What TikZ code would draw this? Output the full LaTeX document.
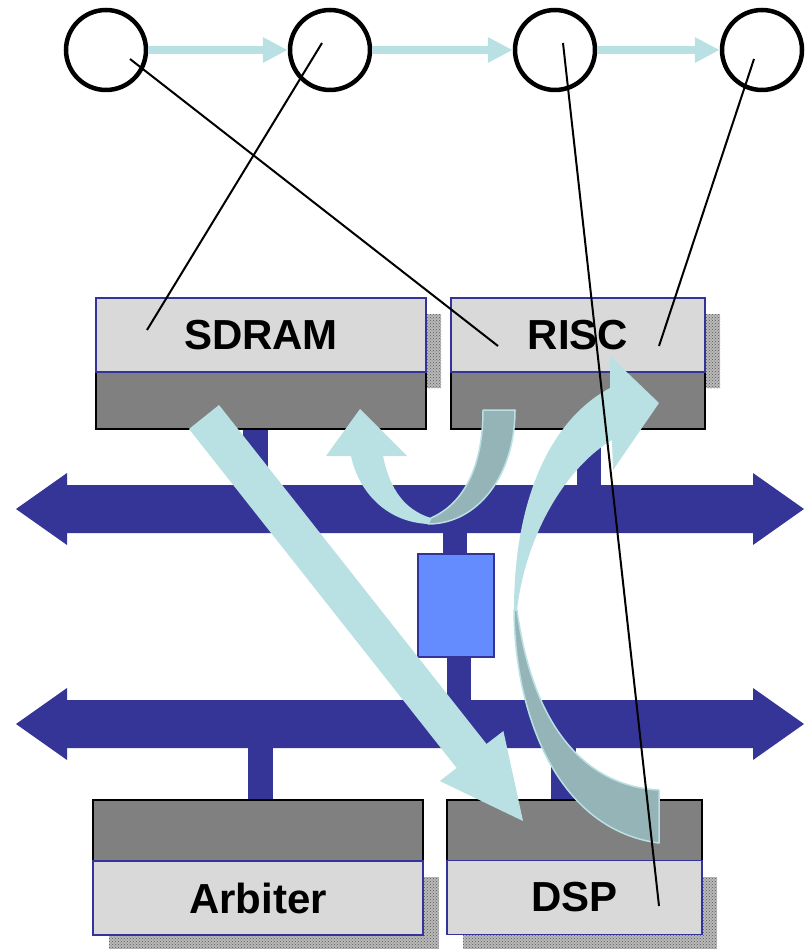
\documentclass[tikz,border=0pt]{standalone}
\usepackage{fontspec}
\setmainfont{Liberation Sans}
\usetikzlibrary{arrows.meta,patterns}

\definecolor{busblue}{RGB}{53,53,152}
\definecolor{edgeblue}{RGB}{51,51,153}
\definecolor{bridgeblue}{RGB}{100,140,255}
\definecolor{labelgray}{RGB}{217,217,217}
\definecolor{basegray}{RGB}{128,128,128}
\definecolor{shadowgray}{RGB}{185,185,185}
\definecolor{flowcyan}{RGB}{185,224,227}
\definecolor{flowteal}{RGB}{149,180,184}

\tikzset{
  state/.style={circle, draw=black, line width=4.5pt, minimum size=80pt, inner sep=0pt},
  hop/.style={draw=flowcyan, line width=8pt, -{Triangle[width=24pt,length=25pt]}},
  link/.style={draw=black, line width=2pt},
  basebox/.style={rectangle, draw=black, line width=1.5pt, fill=basegray, inner sep=0pt},
  labelbox/.style={rectangle, draw=edgeblue, line width=1.5pt, fill=labelgray, inner sep=0pt,
                   minimum height=74pt, font=\fontsize{42}{50}\selectfont\bfseries},
  shadowfill/.style={fill=shadowgray},
  shadowdots/.style={pattern=crosshatch dots, pattern color=black!65},
  bus/.style={fill=busblue},
  bridge/.style={rectangle, draw=edgeblue, line width=2pt, fill=bridgeblue, inner sep=0pt,
                 minimum width=76pt, minimum height=103pt},
  flowfront/.style={fill=flowcyan},
  flowback/.style={fill=flowteal, draw=flowcyan, line width=1.5pt, line join=round},
}

% double-headed bus bar centred on the given y
\newcommand\busbar[1]{%
  \fill[bus] (16,#1) -- (67,#1-36) -- (67,#1-24) -- (753,#1-24) -- (753,#1-36)
    -- (804,#1) -- (753,#1+36) -- (753,#1+24) -- (67,#1+24) -- (67,#1+36) -- cycle;}

% drop shadow of a label box
\newcommand\dropshadow[4]{%
  \fill[shadowfill] (#1,#2) rectangle (#3,#4);
  \fill[shadowdots] (#1,#2) rectangle (#3,#4);}

\begin{document}
\begin{tikzpicture}[x=1pt,y=-1pt]
\useasboundingbox (0,0) rectangle (807,949);

% ---- shadows ----
\dropshadow{111}{314}{441}{388}
\dropshadow{466}{314}{720}{388}
\dropshadow{109}{877}{439}{951}
\dropshadow{463}{877}{717}{951}

% ---- bus stubs ----
\fill[bus] (243,429) rectangle (268,486);
\fill[bus] (577,429) rectangle (601,486);
\fill[bus] (443,532) rectangle (467,555);
\fill[bus] (447,656) rectangle (471,701);
\fill[bus] (248,747) rectangle (273,800);
\fill[bus] (551,747) rectangle (576,800);

% ---- buses ----
\busbar{509}
\busbar{724}

% ---- bus bridge ----
\node[bridge] (bridge) at (456,605.5) {};

% ---- components ----
\node[basebox, minimum width=330pt, minimum height=57pt] (sdramBase) at (261,400.5) {};
\node[labelbox, minimum width=330pt] (sdram) at (261,335) {SDRAM};
\node[basebox, minimum width=254pt, minimum height=57pt] (riscBase) at (578,400.5) {};
\node[labelbox, minimum width=254pt] (risc) at (578,335) {RISC};
\node[basebox, minimum width=330pt, minimum height=61pt] (arbiterBase) at (258,830.5) {};
\node[labelbox, minimum width=330pt] (arbiter) at (258,898) {Arbiter};
\node[basebox, minimum width=255pt, minimum height=61pt] (dspBase) at (574.5,830.5) {};
\node[labelbox, minimum width=255pt] (dsp) at (574.5,897.5) {DSP};

% ---- data flows ----
% SDRAM -> DSP
\fill[flowfront] (219,405) -- (486.5,744) -- (503.4,731) -- (523,821) -- (439.8,781)
  -- (456.7,768) -- (189,429) -- cycle;
% RISC -> SDRAM (U turn)
\fill[flowfront] (360,409) -- (407,456) -- (383,456) .. controls (390,490) and (405,510) .. (431,518)
  -- (428,524) .. controls (385,522) and (358,490) .. (351,456) -- (326,456) -- cycle;
\filldraw[flowback] (431,518) .. controls (465,503) and (483,465) .. (483,410) -- (515,410)
  .. controls (515,475) and (478,524) .. (428,524) -- cycle;
% DSP -> RISC
\fill[flowfront] (610,388) -- (610,356) -- (659,403) -- (613,470) -- (612,440)
  .. controls (568,466) and (526,532) .. (517,610) -- (514,610)
  .. controls (514,500) and (550,420) .. (610,388) -- cycle;
\filldraw[flowback] (517,610) .. controls (532,722) and (582,786) .. (659,790) -- (659,843)
  .. controls (560,830) and (515,720) .. (514,610) -- cycle;

% ---- state chain ----
\node[state] (c1) at (106,50) {};
\node[state] (c2) at (330,50) {};
\node[state] (c3) at (555,50) {};
\node[state] (c4) at (762,50) {};
\draw[hop] (c1) -- (c2);
\draw[hop] (c2) -- (c3);
\draw[hop] (c3) -- (c4);

% ---- mapping of states onto components ----
\coordinate (s1) at (130,59);
\coordinate (s2) at (322,43);
\coordinate (s3) at (563,43);
\coordinate (s4) at (754,59);
\coordinate (m1) at (498,346);
\coordinate (m2) at (147,330);
\coordinate (m3) at (659,906);
\coordinate (m4) at (659,346);
\draw[link] (s1) -- (m1);
\draw[link] (s2) -- (m2);
\draw[link] (s3) -- (m3);
\draw[link] (s4) -- (m4);
\end{tikzpicture}
\end{document}
